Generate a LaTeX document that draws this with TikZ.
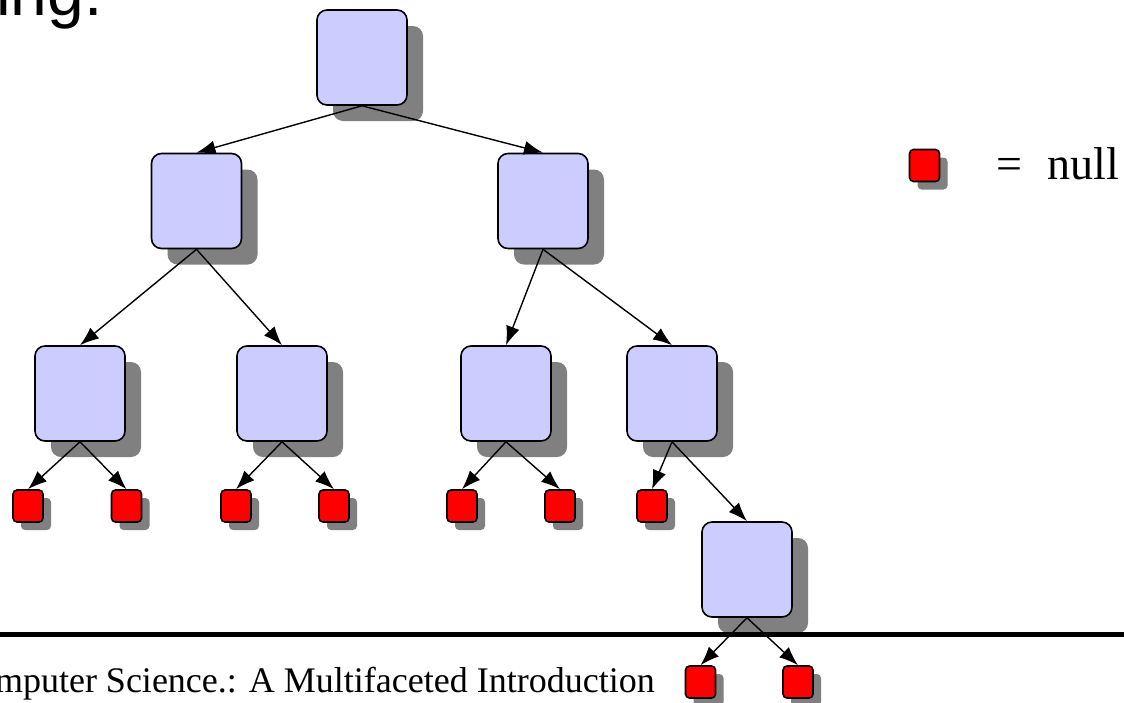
\documentclass[tikz,border=0pt]{standalone}
\usepackage{fontspec}
\setmainfont{Liberation Serif}
\newfontfamily\headfont{Liberation Sans}
\usetikzlibrary{positioning,arrows.meta,shadows}

\definecolor{nodeblue}{HTML}{CCCCFF}
\tikzset{
  treenode/.style={draw, line width=1.6pt, fill=nodeblue, rounded corners=10pt,
    minimum width=90pt, minimum height=95pt, inner sep=0pt,
    drop shadow={shadow xshift=16pt, shadow yshift=-16pt, fill=gray, opacity=1}},
  nullnode/.style={draw, line width=1.6pt, fill=red, rounded corners=4pt,
    minimum width=30pt, minimum height=32pt, inner sep=0pt,
    drop shadow={shadow xshift=8pt, shadow yshift=-8pt, fill=gray, opacity=1}},
  link/.style={->, line width=1.4pt},
}

\begin{document}
\begin{tikzpicture}[x=1pt, y=-1pt, >={Latex[length=19pt,width=14pt]}]
            \useasboundingbox (0,0) rectangle (1124,702);

            % cut-off title and footer
            \begin{scope}
                \clip (0,0) rectangle (1124,702);
                \node [anchor=base west, inner sep=0pt] (title) at (-4,15) {\headfont\fontsize{66}{72}\selectfont ing.};
                \node [anchor=base east, inner sep=0pt] (footer) at (655,692) {\fontsize{36}{40}\selectfont mputer Science.: A Multifaceted Introduction};
            \end{scope}

            % tree
            \node [treenode] (root) at (362,57.5) {};
            \node [treenode] (l) at (196.5,201) {};
            \node [treenode] (r) at (543,201) {};
            \node [treenode] (ll) at (80,393.5) {};
            \node [treenode] (lr) at (282,393.5) {};
            \node [treenode] (rl) at (506,393.5) {};
            \node [treenode] (rr) at (672,393.5) {};
            \node [treenode] (rrr) at (747,569.5) {};

            % null children
            \node [nullnode] (ll1) at (28,506) {};
            \node [nullnode] (ll2) at (126.5,506) {};
            \node [nullnode] (lr1) at (236,506) {};
            \node [nullnode] (lr2) at (334,506) {};
            \node [nullnode] (rl1) at (462,506) {};
            \node [nullnode] (rl2) at (560,506) {};
            \node [nullnode] (rr1) at (652,506) {};
            \node [nullnode] (rrr1) at (700.5,682) {};
            \node [nullnode] (rrr2) at (798,682) {};

            \draw [link] (root.south) -- (l.north);
            \draw [link] (root.south) -- (r.north);
            \draw [link] (l.south) -- (ll.north);
            \draw [link] (l.south) -- (lr.north);
            \draw [link] (r.south) -- (rl.north);
            \draw [link] (r.south) -- (rr.north);
            \draw [link] (ll.south) -- (ll1.north);
            \draw [link] (ll.south) -- (ll2.north);
            \draw [link] (lr.south) -- (lr1.north);
            \draw [link] (lr.south) -- (lr2.north);
            \draw [link] (rl.south) -- (rl1.north);
            \draw [link] (rl.south) -- (rl2.north);
            \draw [link] (rr.south) -- (rr1.north);
            \draw [link] (rr.south) -- (rrr.north);
            \draw [link] (rrr.south) -- (rrr1.north);
            \draw [link] (rrr.south) -- (rrr2.north);

            % legend
            \node [nullnode] (key) at (924.5,165.5) {};
            \node [anchor=base west, inner sep=0pt] (keytext) at (996,179) {\fontsize{46}{50}\selectfont =\hspace{0.55em}null};

            % footer rule
            \coordinate (rulel) at (0,634);
            \coordinate (ruler) at (1124,634);
            \draw [line width=5pt] (rulel) -- (ruler);
        \end{tikzpicture}
\end{document}
